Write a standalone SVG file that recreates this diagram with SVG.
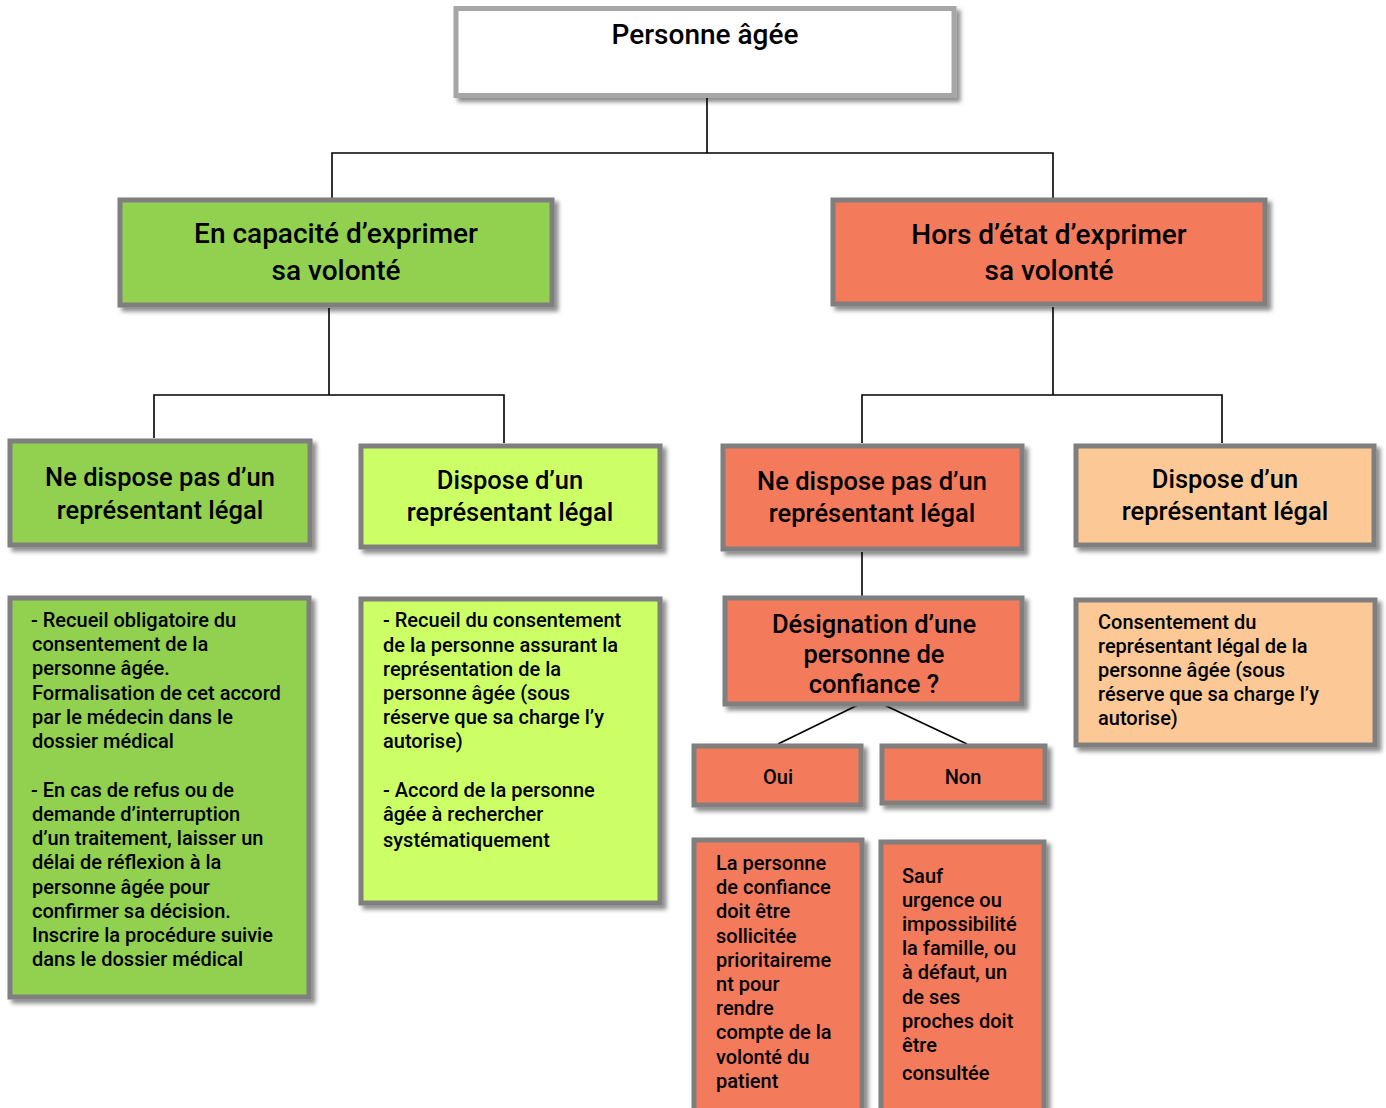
<svg xmlns="http://www.w3.org/2000/svg" width="1386" height="1108" viewBox="0 0 1386 1108">
<defs>
<filter id="sh" x="-10%" y="-10%" width="130%" height="130%">
<feDropShadow dx="4" dy="4" stdDeviation="2" flood-color="#000" flood-opacity="0.45"/>
</filter>
<clipPath id="cpD"><rect x="722" y="595" width="303" height="101"/></clipPath>
</defs>
<style>
.box{stroke:#7f7f7f;stroke-width:5;filter:url(#sh)}
.g{fill:#92d050}.y{fill:#ccff66}.r{fill:#f47a5c}.p{fill:#fcc996}
.t{font-family:Roboto,"Liberation Sans",sans-serif;font-weight:500;fill:#000}
.h{font-size:28px;text-anchor:middle}
.m{font-size:25.5px;text-anchor:middle}
.b{font-size:20px}
.c{font-size:20px;text-anchor:middle}
.ln{stroke:#000;stroke-width:1.6;fill:none}
</style>
<g id="connectors">
<path class="ln" d="M707 97V153M332 198V153H1053V198"/>
<path class="ln" d="M329 308V395M154 438V395H504V443"/>
<path class="ln" d="M1053 307V395M862 443V395H1222V443"/>
<path class="ln" d="M862 552V597"/>
<path class="ln" d="M862 703L778 744M880 703L967 744"/>
</g>
<g id="n-root">
<rect x="456" y="8.5" width="498" height="87" fill="#fff" stroke="#a6a6a6" stroke-width="5" filter="url(#sh)"/>
<text class="t h" x="705" y="44">Personne âgée</text>
</g>
<g id="n-capable">
<rect class="box g" x="120" y="200" width="432" height="105"/>
<text class="t h" x="336" y="243">En capacité d’exprimer</text>
<text class="t h" x="336" y="280">sa volonté</text>
</g>
<g id="n-horsetat">
<rect class="box r" x="833" y="200" width="432" height="104"/>
<text class="t h" x="1049" y="244">Hors d’état d’exprimer</text>
<text class="t h" x="1049" y="280">sa volonté</text>
</g>
<g id="n-g-nodispose">
<rect class="box g" x="10" y="441" width="300" height="104"/>
<text class="t m" x="160" y="486">Ne dispose pas d’un</text>
<text class="t m" x="160" y="519">représentant légal</text>
</g>
<g id="n-y-dispose">
<rect class="box y" x="361" y="446" width="299" height="101"/>
<text class="t m" x="510" y="489">Dispose d’un</text>
<text class="t m" x="510" y="521">représentant légal</text>
</g>
<g id="n-r-nodispose">
<rect class="box r" x="723" y="446" width="299" height="103"/>
<text class="t m" x="872" y="490">Ne dispose pas d’un</text>
<text class="t m" x="872" y="522">représentant légal</text>
</g>
<g id="n-p-dispose">
<rect class="box p" x="1076" y="446" width="298" height="99"/>
<text class="t m" x="1225" y="488">Dispose d’un</text>
<text class="t m" x="1225" y="520">représentant légal</text>
</g>
<g id="n-g-text">
<rect class="box g" x="10" y="598" width="299" height="399"/>
<text class="t b" x="31">
<tspan x="31" y="627">- Recueil obligatoire du</tspan>
<tspan x="32" y="651">consentement de la</tspan>
<tspan x="32" y="675">personne âgée.</tspan>
<tspan x="32" y="700">Formalisation de cet accord</tspan>
<tspan x="32" y="724">par le médecin dans le</tspan>
<tspan x="32" y="748">dossier médical</tspan>
<tspan x="31" y="797">- En cas de refus ou de</tspan>
<tspan x="32" y="821">demande d’interruption</tspan>
<tspan x="32" y="845">d’un traitement, laisser un</tspan>
<tspan x="32" y="869">délai de réflexion à la</tspan>
<tspan x="32" y="894">personne âgée pour</tspan>
<tspan x="32" y="918">confirmer sa décision.</tspan>
<tspan x="32" y="942">Inscrire la procédure suivie</tspan>
<tspan x="32" y="966">dans le dossier médical</tspan>
</text>
</g>
<g id="n-y-text">
<rect class="box y" x="361" y="599" width="299" height="304"/>
<text class="t b">
<tspan x="383" y="627">- Recueil du consentement</tspan>
<tspan x="383" y="652">de la personne assurant la</tspan>
<tspan x="383" y="676">représentation de la</tspan>
<tspan x="383" y="700">personne âgée (sous</tspan>
<tspan x="383" y="724">réserve que sa charge l’y</tspan>
<tspan x="383" y="748">autorise)</tspan>
<tspan x="383" y="797">- Accord de la personne</tspan>
<tspan x="383" y="821">âgée à rechercher</tspan>
<tspan x="383" y="847">systématiquement</tspan>
</text>
</g>
<g id="n-designation">
<rect class="box r" x="725" y="598" width="297" height="106"/>
<g clip-path="url(#cpD)">
<text class="t m" x="874" y="633">Désignation d’une</text>
<text class="t m" x="874" y="663">personne de</text>
<text class="t m" x="874" y="693">confiance ?</text>
</g>
</g>
<g id="n-oui">
<rect class="box r" x="694" y="746" width="167" height="59"/>
<text class="t c" x="778" y="784">Oui</text>
</g>
<g id="n-non">
<rect class="box r" x="882" y="746" width="163" height="57"/>
<text class="t c" x="963" y="784">Non</text>
</g>
<g id="n-oui-text">
<rect class="box r" x="694" y="840" width="168" height="275"/>
<text class="t b">
<tspan x="716" y="870">La personne</tspan>
<tspan x="716" y="894">de confiance</tspan>
<tspan x="716" y="918">doit être</tspan>
<tspan x="716" y="943">sollicitée</tspan>
<tspan x="716" y="967">prioritaireme</tspan>
<tspan x="716" y="991">nt pour</tspan>
<tspan x="716" y="1015">rendre</tspan>
<tspan x="716" y="1039">compte de la</tspan>
<tspan x="716" y="1064">volonté du</tspan>
<tspan x="716" y="1088">patient</tspan>
</text>
</g>
<g id="n-non-text">
<rect class="box r" x="881" y="842" width="163" height="273"/>
<text class="t b">
<tspan x="902" y="883">Sauf</tspan>
<tspan x="902" y="907">urgence ou</tspan>
<tspan x="902" y="931">impossibilité</tspan>
<tspan x="902" y="955">la famille, ou</tspan>
<tspan x="902" y="979">à défaut, un</tspan>
<tspan x="902" y="1004">de ses</tspan>
<tspan x="902" y="1028">proches doit</tspan>
<tspan x="902" y="1052">être</tspan>
<tspan x="902" y="1080">consultée</tspan>
</text>
</g>
<g id="n-p-text">
<rect class="box p" x="1076" y="600" width="299" height="145"/>
<text class="t b">
<tspan x="1098" y="629">Consentement du</tspan>
<tspan x="1098" y="653">représentant légal de la</tspan>
<tspan x="1098" y="677">personne âgée (sous</tspan>
<tspan x="1098" y="701">réserve que sa charge l’y</tspan>
<tspan x="1098" y="725">autorise)</tspan>
</text>
</g>
</svg>
